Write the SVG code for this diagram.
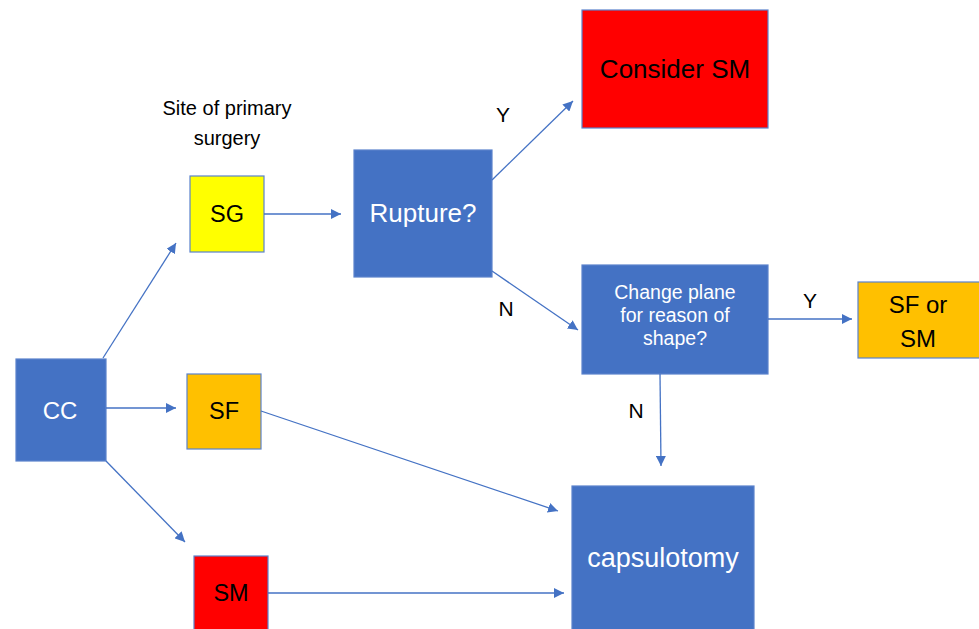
<svg xmlns="http://www.w3.org/2000/svg" width="979" height="629" viewBox="0 0 979 629">
<defs>
<marker id="ah" viewBox="0 0 10 10" refX="10" refY="5" markerWidth="10" markerHeight="10" markerUnits="userSpaceOnUse" orient="auto">
<path d="M0,0 L10,5 L0,10 z" fill="#4472C4"/>
</marker>
</defs>
<style>
.box{stroke:#5A82CC;stroke-width:1.2}
.blue{fill:#4472C4}
.yellow{fill:#FFFF00}
.orange{fill:#FFC000}
.red{fill:#FF0000}
text{font-family:"Liberation Sans",Arial,sans-serif;text-anchor:middle;dominant-baseline:central}
.w{fill:#FFFFFF}
.k{fill:#000000}
.edge{stroke:#4472C4;stroke-width:1.3;fill:none;marker-end:url(#ah)}
</style>
<rect width="979" height="629" fill="#FFFFFF"/>
<g id="label-site">
<text class="k" x="227" y="108" font-size="20">Site of primary</text>
<text class="k" x="227" y="138" font-size="20">surgery</text>
</g>
<g id="node-cc">
<rect class="box blue" x="16" y="359" width="90" height="102"/>
<text class="w" x="60" y="410" font-size="24">CC</text>
</g>
<g id="node-sg">
<rect class="box yellow" x="190" y="176" width="74" height="76"/>
<text class="k" x="227" y="214" font-size="23.5">SG</text>
</g>
<g id="node-sf">
<rect class="box orange" x="187" y="374" width="74" height="75"/>
<text class="k" x="224" y="411" font-size="23.5">SF</text>
</g>
<g id="node-sm">
<rect class="box red" x="194" y="556" width="74" height="76"/>
<text class="k" x="231" y="593" font-size="23.5">SM</text>
</g>
<g id="node-rupture">
<rect class="box blue" x="354" y="150" width="138" height="127"/>
<text class="w" x="423" y="213" font-size="26">Rupture?</text>
</g>
<g id="node-consider">
<rect class="box red" x="582" y="10" width="186" height="118"/>
<text class="k" x="675" y="69" font-size="26">Consider SM</text>
</g>
<g id="node-change">
<rect class="box blue" x="582" y="265" width="186" height="109"/>
<text class="w" x="675" y="292" font-size="19.5">Change plane</text>
<text class="w" x="675" y="315" font-size="19.5">for reason of</text>
<text class="w" x="675" y="338" font-size="19.5">shape?</text>
</g>
<g id="node-sfsm">
<rect class="box orange" x="858" y="282" width="124" height="76"/>
<text class="k" x="918" y="304" font-size="24">SF or</text>
<text class="k" x="918" y="338" font-size="24">SM</text>
</g>
<g id="node-caps">
<rect class="box blue" x="572" y="486" width="182" height="146"/>
<text class="w" x="663" y="558" font-size="27">capsulotomy</text>
</g>
<g id="connectors">
<line class="edge" x1="103" y1="358" x2="176" y2="243"/>
<line class="edge" x1="106" y1="408" x2="176" y2="408"/>
<line class="edge" x1="106" y1="461" x2="185" y2="542"/>
<line class="edge" x1="264" y1="214" x2="341" y2="214"/>
<line class="edge" x1="492" y1="180" x2="573" y2="101"/>
<line class="edge" x1="492" y1="271" x2="578" y2="330"/>
<line class="edge" x1="768" y1="319" x2="852" y2="319"/>
<line class="edge" x1="660" y1="374" x2="661" y2="466"/>
<line class="edge" x1="261" y1="411" x2="558" y2="511"/>
<line class="edge" x1="268" y1="593" x2="564" y2="593"/>
</g>
<g id="edge-labels">
<text class="k" x="503" y="114" font-size="21">Y</text>
<text class="k" x="506" y="308" font-size="21">N</text>
<text class="k" x="810" y="300" font-size="21">Y</text>
<text class="k" x="636" y="410" font-size="21">N</text>
</g>
</svg>
